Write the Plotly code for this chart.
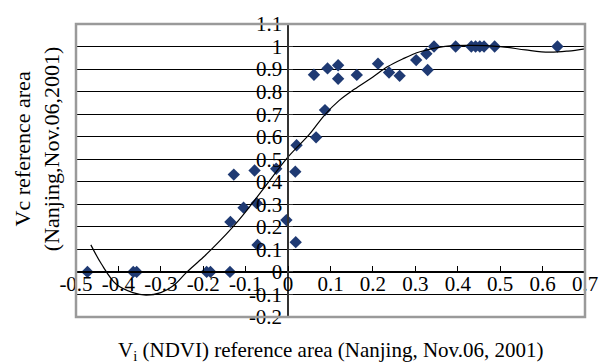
import plotly.graph_objects as go

# Observed points (Vi NDVI vs Vc)
ndvi = [-0.473, -0.365, -0.357, -0.192, -0.183, -0.137, -0.136, -0.128, -0.105, -0.079,
        -0.074, -0.072, -0.028, -0.004, 0.017, 0.018, 0.020, 0.066, 0.061, 0.087,
        0.093, 0.118, 0.118, 0.162, 0.212, 0.238, 0.263, 0.302, 0.326, 0.329,
        0.344, 0.395, 0.432, 0.442, 0.452, 0.462, 0.487, 0.635]
vc = [0.0, 0.0, 0.0, 0.0, 0.0, 0.0, 0.222, 0.432, 0.285, 0.450,
      0.305, 0.120, 0.458, 0.230, 0.445, 0.132, 0.562, 0.597, 0.875, 0.718,
      0.903, 0.917, 0.857, 0.874, 0.924, 0.885, 0.870, 0.940, 0.968, 0.896,
      1.0, 1.0, 1.0, 1.0, 1.0, 1.0, 1.0, 1.0]

# Trend curve
trend_x = [-0.465, -0.44, -0.405, -0.366, -0.335, -0.30, -0.27, -0.24, -0.20, -0.165,
           -0.13, -0.103, -0.056, 0.0, 0.05, 0.086, 0.12, 0.156, 0.20, 0.234,
           0.27, 0.311, 0.366, 0.42, 0.50, 0.56, 0.615, 0.66, 0.70]
trend_y = [0.12, 0.035, -0.055, -0.092, -0.103, -0.092, -0.06, -0.003, 0.065, 0.13,
           0.20, 0.26, 0.374, 0.51, 0.61, 0.696, 0.76, 0.81, 0.865, 0.91,
           0.945, 0.977, 1.0, 1.005, 1.0, 0.985, 0.975, 0.98, 0.99]

x_ticks = [-0.5, -0.4, -0.3, -0.2, -0.1, 0, 0.1, 0.2, 0.3, 0.4, 0.5, 0.6, 0.7]
x_labels = ["-0.5", "-0.4", "-0.3", "-0.2", "-0.1", "0", "0.1", "0.2", "0.3", "0.4", "0.5", "0.6", "0.7"]
y_ticks = [-0.2, -0.1, 0, 0.1, 0.2, 0.3, 0.4, 0.5, 0.6, 0.7, 0.8, 0.9, 1.0, 1.1]
y_labels = ["-0.2", "-0.1", "0", "0.1", "0.2", "0.3", "0.4", "0.5", "0.6", "0.7", "0.8", "0.9", "1", "1.1"]

FONT = "Liberation Serif"
xr = [-0.5, 0.7]
yr = [-0.2, 1.1]

fig = go.Figure()
fig.add_trace(go.Scatter(x=ndvi, y=vc, mode="markers",
                         marker=dict(symbol="diamond", size=9.5, color="#1f3a73", line=dict(width=0)),
                         showlegend=False, hoverinfo="skip"))
fig.add_trace(go.Scatter(x=trend_x, y=trend_y, mode="lines",
                         line=dict(color="black", width=1.2, shape="spline", smoothing=1.0),
                         showlegend=False, hoverinfo="skip"))

xpos = (0 - yr[0]) / (yr[1] - yr[0])
ypos = (0 - xr[0]) / (xr[1] - xr[0])

fig.update_layout(
    width=610, height=363,
    margin=dict(l=76, r=20, t=14, b=46),
    paper_bgcolor="white", plot_bgcolor="white",
    font=dict(family=FONT, size=21, color="black"),
    xaxis=dict(range=xr, tickvals=x_ticks, ticktext=x_labels, anchor="free", position=xpos,
               showline=True, linecolor="black", linewidth=1.5, ticks="inside", ticklen=5,
               tickcolor="black", tickwidth=1.2, showgrid=False, zeroline=False,
               tickfont=dict(family=FONT, size=21, color="black"), ticklabelstandoff=-7),
    yaxis=dict(range=yr, tickvals=y_ticks, ticktext=y_labels, anchor="free", position=ypos,
               side="left", showline=True, linecolor="#333333", linewidth=1.5, ticks="inside",
               ticklen=4, tickcolor="#333333", showgrid=True, gridcolor="black", gridwidth=1.2,
               zeroline=False, tickfont=dict(family=FONT, size=21, color="black"),
               ticklabelstandoff=1),
    shapes=[dict(type="rect", xref="paper", yref="paper", x0=0, x1=1, y0=0, y1=1,
                 line=dict(color="#9a9a9a", width=2.5), fillcolor="rgba(0,0,0,0)")],
    annotations=[
        dict(text="Vc reference area<br>(Nanjing,Nov.06,2001)", xref="paper", yref="paper",
             x=-0.076, y=0.574, textangle=-90, showarrow=False, xanchor="center", yanchor="middle",
             font=dict(family=FONT, size=22, color="black")),
        dict(text="V<sub>i</sub> (NDVI) reference area (Nanjing, Nov.06, 2001)", xref="paper",
             yref="paper", x=0.5, y=-0.115, showarrow=False, xanchor="center", yanchor="middle",
             font=dict(family=FONT, size=21, color="black")),
    ],
)

fig.write_html("out.html")
